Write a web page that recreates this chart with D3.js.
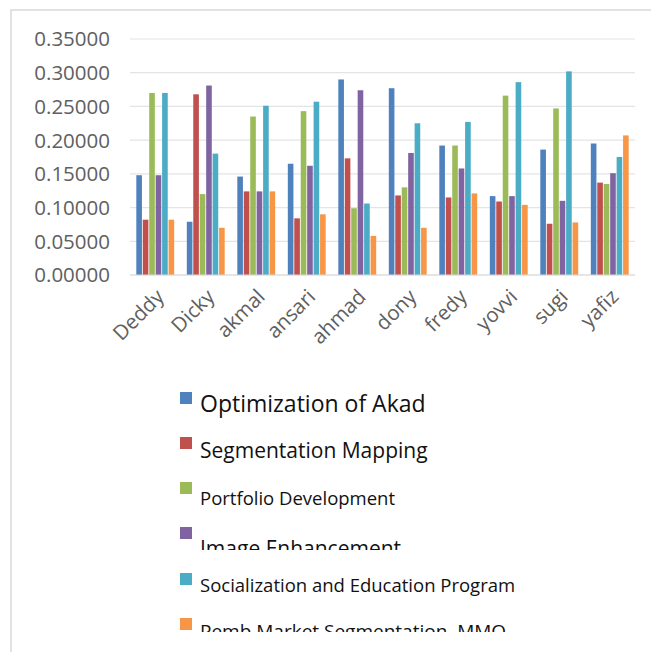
<!DOCTYPE html>
<html>
<head>
<meta charset="utf-8">
<script src="https://cdnjs.cloudflare.com/ajax/libs/d3/7.8.5/d3.min.js"></script>
<style>
  body { margin: 0; background: #fff; }
  svg { display: block; }
</style>
</head>
<body>
<div id="chart"></div>
<script>
// Data
let names = ["Deddy", "Dicky", "akmal", "ansari", "ahmad", "dony", "fredy", "yovvi", "sugi", "yafiz"];
let seriesNames = ["Optimization of Akad", "Segmentation Mapping", "Portfolio Development",
    "Image Enhancement", "Socialization and Education Program", "Pemb Market Segmentation, MMO"];
let optimization = [0.148, 0.079, 0.146, 0.165, 0.290, 0.277, 0.192, 0.117, 0.186, 0.195];
let segmentation = [0.082, 0.268, 0.124, 0.084, 0.173, 0.118, 0.115, 0.109, 0.076, 0.137];
let portfolio    = [0.270, 0.120, 0.235, 0.243, 0.099, 0.130, 0.192, 0.266, 0.247, 0.135];
let image        = [0.148, 0.281, 0.124, 0.162, 0.274, 0.181, 0.158, 0.117, 0.110, 0.151];
let socialization= [0.270, 0.180, 0.251, 0.257, 0.106, 0.225, 0.227, 0.286, 0.302, 0.175];
let pemb         = [0.082, 0.070, 0.124, 0.090, 0.058, 0.070, 0.121, 0.104, 0.078, 0.207];
let yTicks = [0, 0.05, 0.10, 0.15, 0.20, 0.25, 0.30, 0.35];

let colors = ["#4F81BD", "#C0504D", "#9BBB59", "#8064A2", "#4BACC6", "#F79646"];
let allSeries = [optimization, segmentation, portfolio, image, socialization, pemb];

let width = 651, height = 652;

let svg = d3.select('#chart')
    .append('svg')
    .attr('width', width)
    .attr('height', height);

// Outer chart frame (right and bottom edges fall outside the picture)
svg.append('rect')
    .attr('x', 11).attr('y', 10)
    .attr('width', 700).attr('height', 700)
    .attr('fill', 'none')
    .attr('stroke', '#d9d9d9')
    .attr('stroke-width', 1.5);

// Scales
let x = d3.scaleBand()
    .domain(names)
    .range([130, 635])
    .paddingInner(0.25)
    .paddingOuter(0.125);

let xs = d3.scaleBand()
    .domain(d3.range(seriesNames.length))
    .range([0, x.bandwidth()])
    .paddingInner(0.13);

let y = d3.scaleLinear()
    .domain([0, 0.35])
    .range([275, 39]);

// Gridlines
svg.append('g')
    .selectAll('line')
    .data(yTicks)
    .enter()
    .append('line')
    .attr('x1', 130).attr('x2', 635)
    .attr('y1', d => y(d)).attr('y2', d => y(d))
    .attr('stroke', '#e4e4e4')
    .attr('stroke-width', 1.2);

// Y tick labels
svg.append('g')
    .selectAll('text')
    .data(yTicks)
    .enter()
    .append('text')
    .attr('x', 110)
    .attr('y', d => y(d))
    .attr('dy', '0.36em')
    .attr('text-anchor', 'end')
    .style('font-family', '"Open Sans", sans-serif')
    .style('font-size', '20.5px')
    .style('fill', '#606060')
    .text(d => d3.format('.5f')(d));

// Bars
let groups = svg.append('g')
    .selectAll('g')
    .data(names)
    .enter()
    .append('g')
    .attr('transform', d => 'translate(' + x(d) + ',0)');

groups.selectAll('rect')
    .data((d, i) => allSeries.map((s, j) => ({ k: j, v: s[i] })))
    .enter()
    .append('rect')
    .attr('x', d => xs(d.k))
    .attr('width', xs.bandwidth())
    .attr('y', d => y(d.v))
    .attr('height', d => y(0) - y(d.v))
    .attr('fill', d => colors[d.k]);

// Baseline
svg.append('line')
    .attr('x1', 130).attr('x2', 635)
    .attr('y1', y(0)).attr('y2', y(0))
    .attr('stroke', '#d9d9d9')
    .attr('stroke-width', 1.2);

// X labels, rotated
svg.append('g')
    .selectAll('text')
    .data(names)
    .enter()
    .append('text')
    .attr('text-anchor', 'end')
    .attr('transform', d => 'translate(' + (x(d) + x.bandwidth() / 2 + 10) + ',298) rotate(-45)')
    .style('font-family', '"Open Sans", sans-serif')
    .style('font-size', '20.5px')
    .style('fill', '#606060')
    .text(d => d);

// Legend: each entry is clipped like in the reference
let legendTop = [392, 437, 482, 527, 573, 618];
let legendSize = [23, 21, 18.5, 21, 18.5, 19];
let legendBase = [412, 458, 505, 556, 592, 638];
let legendClip = [420, 466, 512, 550, 600, 632];

let defs = svg.append('defs');
seriesNames.forEach((name, i) => {
    defs.append('clipPath')
        .attr('id', 'clip' + i)
        .append('rect')
        .attr('x', 170).attr('y', legendTop[i] - 10)
        .attr('width', 450).attr('height', legendClip[i] - legendTop[i] + 10);

    let item = svg.append('g').attr('clip-path', 'url(#clip' + i + ')');
    item.append('rect')
        .attr('x', 180).attr('y', legendTop[i])
        .attr('width', 12).attr('height', 12)
        .attr('fill', colors[i]);
    item.append('text')
        .attr('x', 200).attr('y', legendBase[i])
        .style('font-family', '"Open Sans", sans-serif')
        .style('font-size', legendSize[i] + 'px')
        .style('fill', '#111')
        .text(name);
});
</script>
</body>
</html>
